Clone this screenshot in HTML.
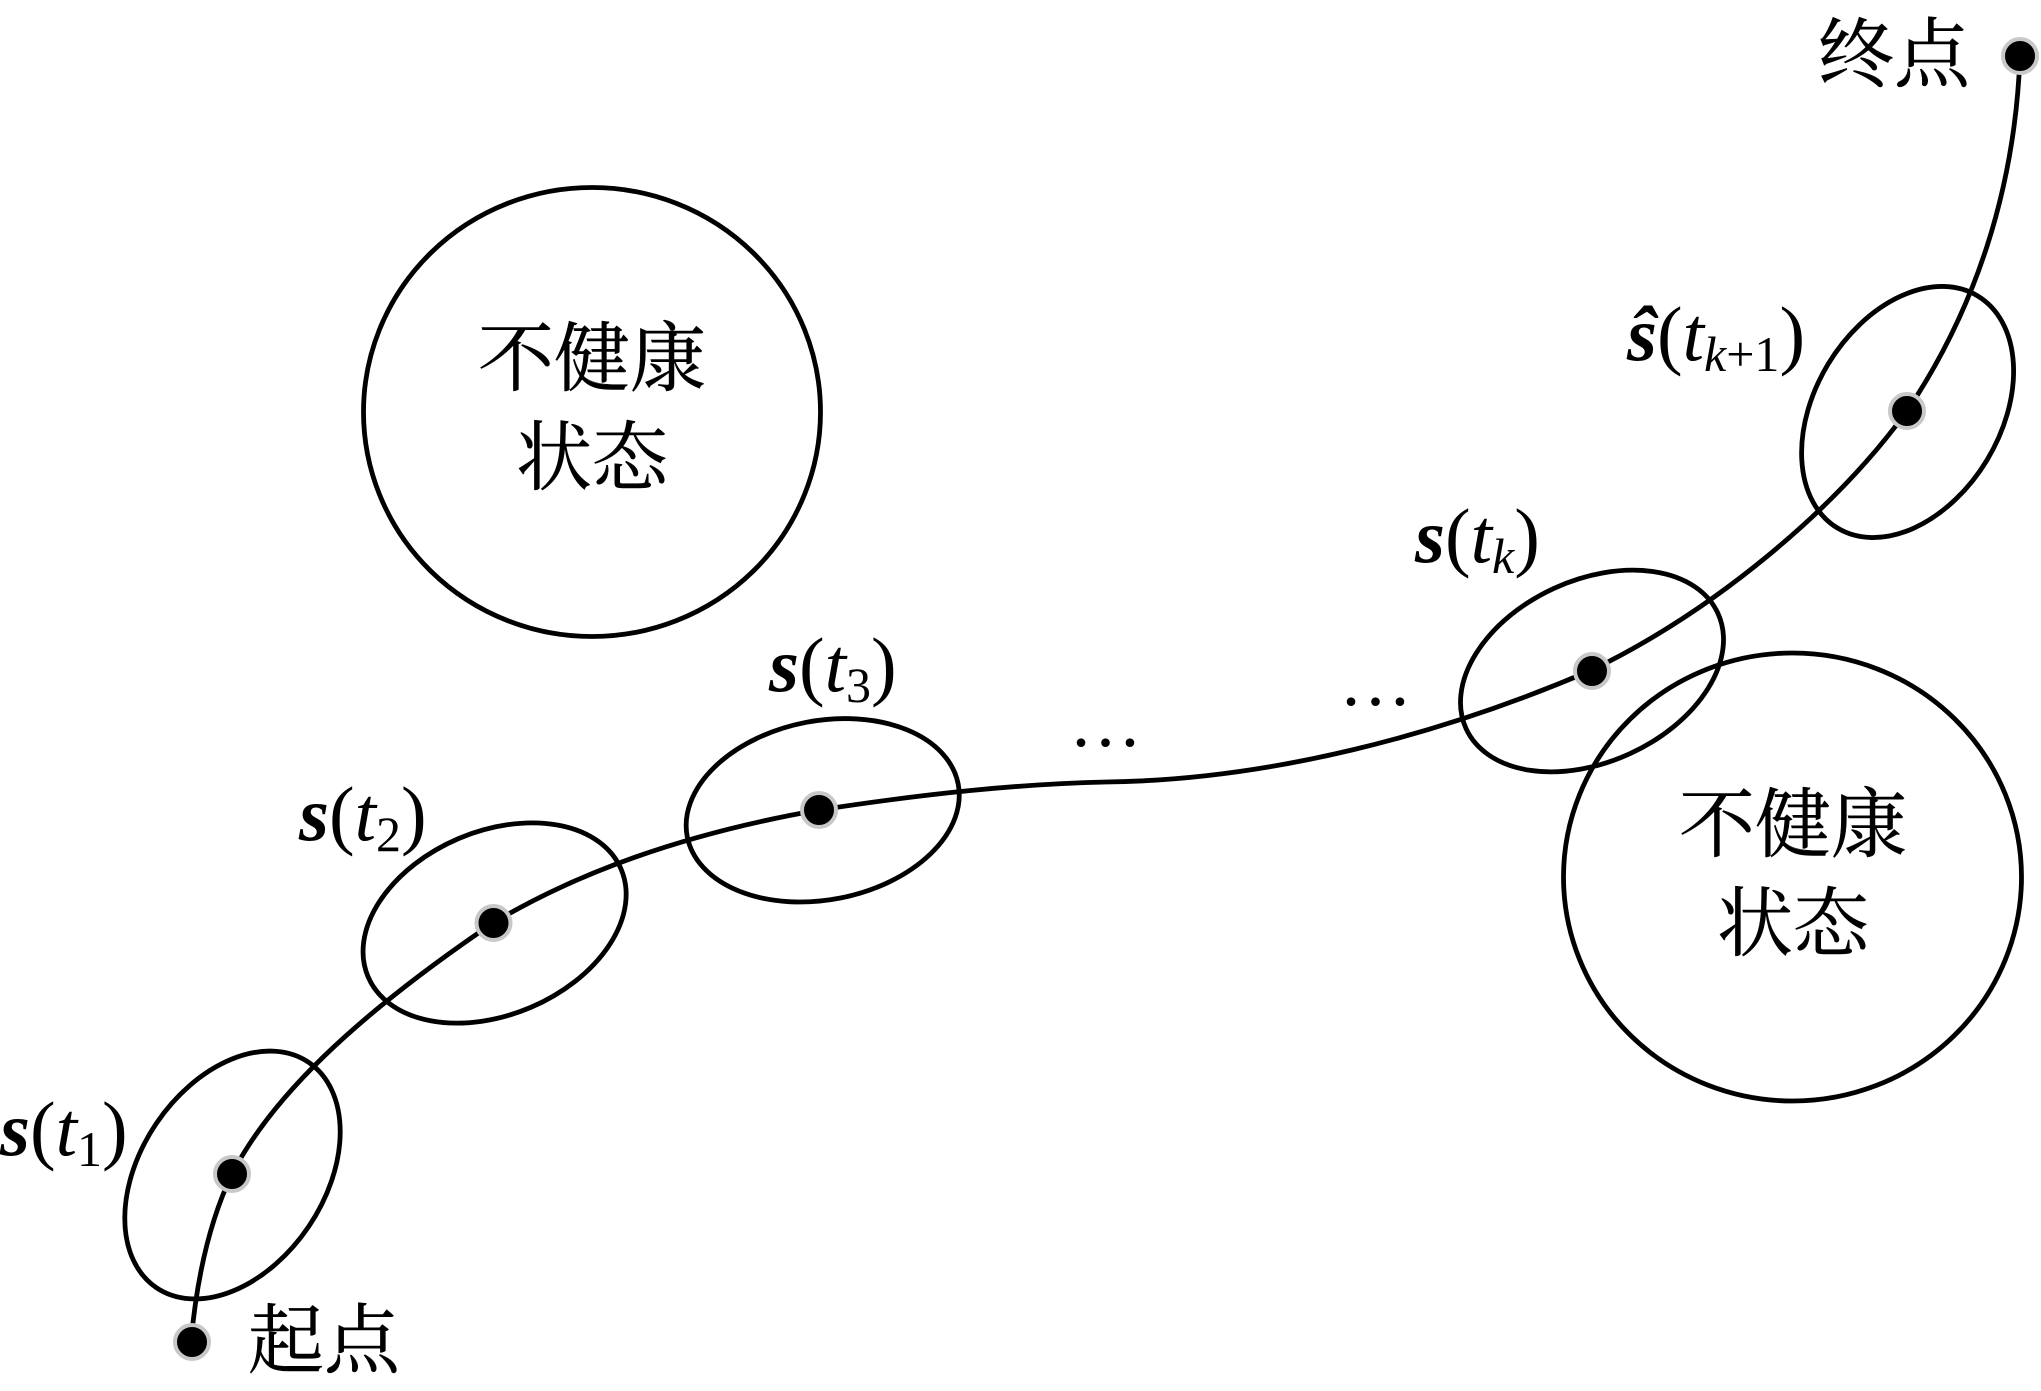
<!DOCTYPE html>
<html lang="zh">
<head>
<meta charset="utf-8">
<style>
html,body{margin:0;padding:0;background:#fff;width:2041px;height:1391px;overflow:hidden}
svg{display:block}
.c{font-family:"Liberation Serif","Noto Serif CJK SC",serif;font-size:76px;fill:#000;stroke:#000;stroke-width:.5;text-anchor:middle}
.m{font-family:"Liberation Serif",serif;font-size:77px;fill:#000}
.b{font-weight:bold;font-style:italic}
.i{font-style:italic}
.sub{font-size:50px}
</style>
</head>
<body>
<svg width="2041" height="1391" viewBox="0 0 2041 1391" xmlns="http://www.w3.org/2000/svg">
<rect width="2041" height="1391" fill="#fff"/>
<g fill="none" stroke="#000" stroke-width="4.8">
<ellipse cx="1792.5" cy="877" rx="229" ry="224"/>
<ellipse cx="592" cy="412" rx="228.5" ry="224.5"/>
<ellipse cx="232.5" cy="1175" rx="136" ry="92" transform="rotate(-56 232.5 1175)"/>
<ellipse cx="494.6" cy="923" rx="137.5" ry="91.8" transform="rotate(-23 494.6 923)"/>
<ellipse cx="822.7" cy="810.3" rx="138" ry="89.5" transform="rotate(-11 822.7 810.3)"/>
<ellipse cx="1592" cy="671" rx="138.5" ry="91" transform="rotate(-24.6 1592 671)"/>
<ellipse cx="1907.6" cy="412" rx="135.6" ry="92.8" transform="rotate(-58.8 1907.6 412)"/>
<path d="M191 1342C197 1275 210 1220 232 1174C270 1100 350 1020 493 923C590 865 705 830 819 810C930 793 1020 784 1106 782C1270 780 1440 735 1592 670C1715 610 1835 510 1907 411C1975 310 2015 190 2020 56"/>
</g>
<g fill="#000" stroke="#c8c8c8" stroke-width="4">
<circle cx="192" cy="1342" r="17"/>
<circle cx="232" cy="1174" r="17"/>
<circle cx="493.5" cy="923" r="17"/>
<circle cx="819" cy="810" r="17"/>
<circle cx="1592" cy="671" r="17"/>
<circle cx="1907" cy="411" r="17"/>
<circle cx="2020" cy="56" r="17"/>
</g>
<text class="c" x="592" y="385">不健康</text>
<text class="c" x="592" y="484">状态</text>
<text class="c" x="1793" y="851">不健康</text>
<text class="c" x="1793" y="950">状态</text>
<text class="c" x="324" y="1367">起点</text>
<text class="c" x="1894" y="81">终点</text>
<text class="m" x="0" y="1155"><tspan class="b">s</tspan>(<tspan class="i">t</tspan><tspan class="sub" dy="11">1</tspan><tspan dy="-11">)</tspan></text>
<text class="m" x="299" y="840"><tspan class="b">s</tspan>(<tspan class="i">t</tspan><tspan class="sub" dy="11">2</tspan><tspan dy="-11">)</tspan></text>
<text class="m" x="769" y="691"><tspan class="b">s</tspan>(<tspan class="i">t</tspan><tspan class="sub" dy="11">3</tspan><tspan dy="-11">)</tspan></text>
<text class="m" x="1415" y="562"><tspan class="b">s</tspan>(<tspan class="i">t</tspan><tspan class="sub i" dy="11">k</tspan><tspan dy="-11">)</tspan></text>
<text class="m" x="1627" y="360"><tspan class="b">ŝ</tspan>(<tspan class="i">t</tspan><tspan class="sub i" dy="11">k</tspan><tspan class="sub">+1</tspan><tspan dy="-11">)</tspan></text>
<text x="1069" y="746" font-family="Liberation Serif,serif" font-size="73">…</text>
<text x="1339" y="705" font-family="Liberation Serif,serif" font-size="73">…</text>
</svg>
</body>
</html>
